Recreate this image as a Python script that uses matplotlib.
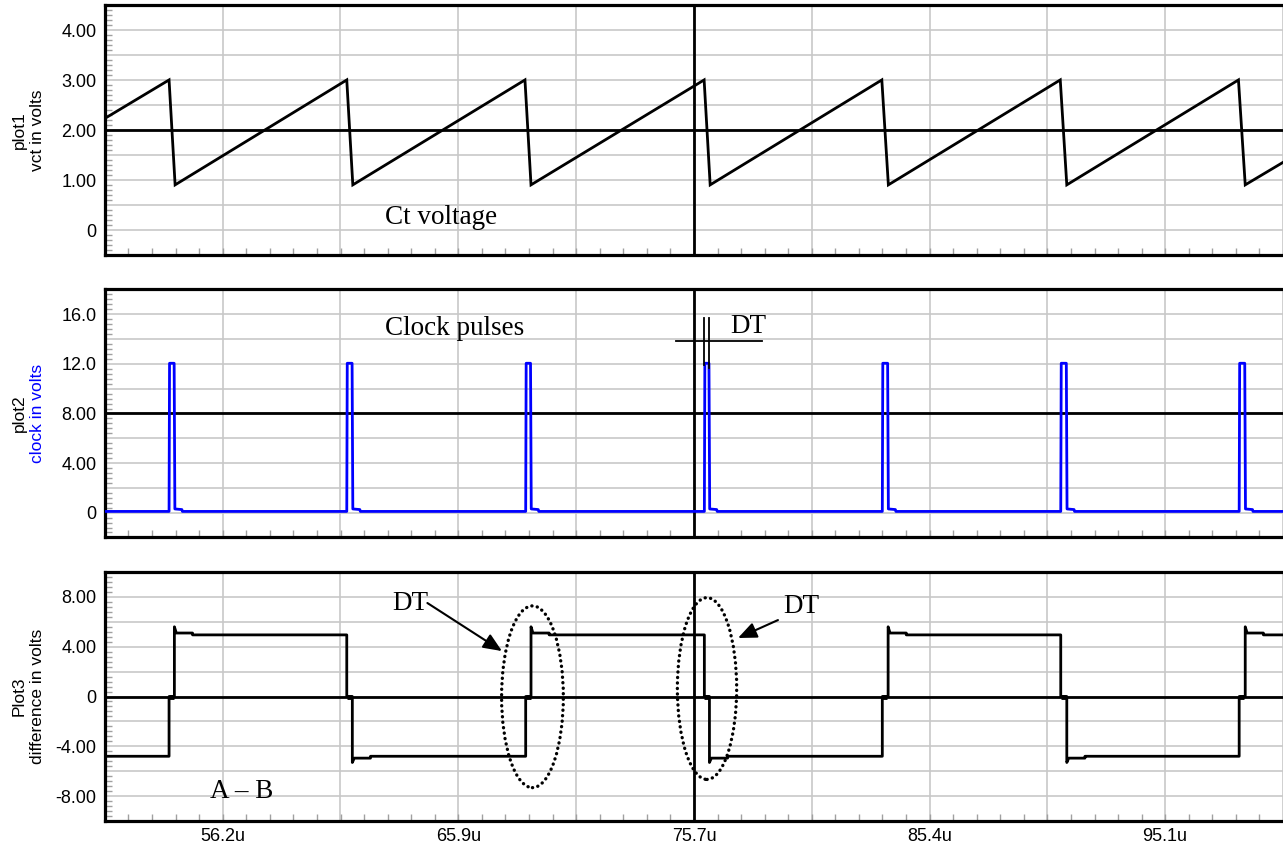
import matplotlib
matplotlib.use("Agg")
import matplotlib.pyplot as plt
import numpy as np
from matplotlib.patches import Ellipse
from matplotlib.ticker import FixedLocator, FixedFormatter

# ---------------- data ----------------
x_min, x_max = 51.34, 100.0
x_grid = [51.34, 56.21, 61.07, 65.94, 70.80, 75.67, 80.54, 85.40, 90.27, 95.13, 100.0]
x_labels = ['', '56.2u', '', '65.9u', '', '75.7u', '', '85.4u', '', '95.1u', '']
cursor_t = 75.67

# plot1: Ct voltage (sawtooth vertices)
ct_start = (51.34, 2.24)
ct_peak_t = [53.99, 61.33, 68.69, 76.09, 83.43, 90.80, 98.16]
ct_peak_v = [3.01, 3.01, 3.01, 3.01, 3.01, 3.01, 3.01]
ct_trough_t = [54.24, 61.58, 68.94, 76.34, 83.70, 91.07, 98.44]
ct_trough_v = [0.91, 0.91, 0.91, 0.91, 0.91, 0.91, 0.91]
ct_end = (100.0, 1.36)
p1_ylim = (-0.5, 4.5)
p1_grid = [-0.5, 0.0, 0.5, 1.0, 1.5, 2.0, 2.5, 3.0, 3.5, 4.0, 4.5]
p1_labels = ['', '0', '', '1.00', '', '2.00', '', '3.00', '', '4.00', '']
p1_cursor = 2.0

# plot2: clock pulses
clk_rise = [53.99, 61.33, 68.72, 76.10, 83.45, 90.82, 98.19]
clk_fall = [54.22, 61.57, 68.94, 76.31, 83.69, 91.07, 98.44]
clk_top = 12.05
clk_base = 0.1
clk_tail_v = 0.3
clk_tail_len = 0.3
p2_ylim = (-2.0, 18.0)
p2_grid = [-2, 0, 2, 4, 6, 8, 10, 12, 14, 16, 18]
p2_labels = ['', '0', '', '4.00', '', '8.00', '', '12.0', '', '16.0', '']
p2_cursor = 8.0

# plot3: difference A - B
diff_t0 = [53.99, 61.33, 68.72, 76.10, 83.45, 90.82, 98.19]
diff_t1 = [54.21, 61.56, 68.94, 76.31, 83.69, 91.07, 98.44]
diff_dir = [1, -1, 1, -1, 1, -1, 1]
diff_high, diff_low = 4.95, -4.8
diff_over_high, diff_over_low = 5.6, -5.3
diff_settle_high, diff_settle_low = 5.1, -4.95
p3_ylim = (-10.0, 10.0)
p3_grid = [-10, -8, -6, -4, -2, 0, 2, 4, 6, 8, 10]
p3_labels = ['', '-8.00', '', '-4.00', '', '0', '', '4.00', '', '8.00', '']
p3_cursor = 0.0

# ---------------- build polylines from the read values ----------------
ct_t = [ct_start[0]]
ct_v = [ct_start[1]]
for pt, pv, tt, tv in zip(ct_peak_t, ct_peak_v, ct_trough_t, ct_trough_v):
    ct_t += [pt, tt]
    ct_v += [pv, tv]
ct_t.append(ct_end[0]); ct_v.append(ct_end[1])

clk_t = [x_min]
clk_v = [clk_base]
for r, f in zip(clk_rise, clk_fall):
    clk_t += [r, r + 0.02, f - 0.02, f + 0.01, f + clk_tail_len, f + clk_tail_len + 0.02]
    clk_v += [clk_base, clk_top, clk_top, clk_tail_v, clk_tail_v - 0.05, clk_base]
clk_t.append(x_max); clk_v.append(clk_base)

d_t = [x_min]
d_v = [diff_low]
level = diff_low
hold_segments = []
for t0, t1, d in zip(diff_t0, diff_t1, diff_dir):
    over = diff_over_high if d > 0 else diff_over_low
    settle = diff_settle_high if d > 0 else diff_settle_low
    new = diff_high if d > 0 else diff_low
    d_t += [t0, t0, t1, t1, t1 + 0.08, t1 + 0.75, t1 + 0.75]
    d_v += [level, 0.0, 0.0, over, settle, settle, new]
    hold_segments.append((t0, t1))
    level = new
d_t.append(x_max); d_v.append(level)

# ---------------- figure ----------------
fig = plt.figure(figsize=(12.83, 8.44), dpi=100)
left = 104.9 / 1283
width = 1.0 - left
ax1 = fig.add_axes([left, 0.6975, width, 0.2960])
ax2 = fig.add_axes([left, 0.3632, width, 0.2938])
ax3 = fig.add_axes([left, 0.02725, width, 0.2950])

SANS = ['Liberation Sans', 'DejaVu Sans']
SERIF = ['Liberation Serif', 'DejaVu Serif']
grid_col = '#c8c8c8'

def style(ax, ylim, ygrid, ylabels, show_x):
    ax.set_xlim(x_min, x_max)
    ax.set_ylim(*ylim)
    ax.xaxis.set_major_locator(FixedLocator(x_grid))
    ax.xaxis.set_minor_locator(FixedLocator(np.linspace(x_min, x_max, 51)))
    ax.yaxis.set_major_locator(FixedLocator(ygrid))
    ax.yaxis.set_major_formatter(FixedFormatter(ylabels))
    ax.yaxis.set_minor_locator(FixedLocator(np.linspace(ylim[0], ylim[1], 51)))
    if show_x:
        ax.xaxis.set_major_formatter(FixedFormatter(x_labels))
    else:
        ax.xaxis.set_major_formatter(FixedFormatter([''] * len(x_grid)))
    ax.tick_params(which='major', length=0, pad=5, labelsize=13)
    ax.tick_params(which='minor', length=5, direction='in', color='#a0a0a0', width=1)
    ax.tick_params(axis='y', which='major', pad=6)
    for lab in ax.get_xticklabels() + ax.get_yticklabels():
        lab.set_family(SANS)
    ax.grid(True, which='major', color=grid_col, lw=1.2)
    ax.set_axisbelow(True)
    for s in ['left', 'top', 'bottom']:
        ax.spines[s].set_linewidth(2.3)
        ax.spines[s].set_color('black')
    ax.spines['right'].set_visible(False)
    ax.axvline(cursor_t, color='black', lw=2.0, zorder=3)

style(ax1, p1_ylim, p1_grid, p1_labels, False)
style(ax2, p2_ylim, p2_grid, p2_labels, False)
style(ax3, p3_ylim, p3_grid, p3_labels, True)

ax1.axhline(p1_cursor, color='black', lw=2.0, zorder=3)
ax2.axhline(p2_cursor, color='black', lw=2.0, zorder=3)
ax3.axhline(p3_cursor, color='black', lw=2.0, zorder=3)

ax1.plot(ct_t, ct_v, color='black', lw=2.0, zorder=4, solid_joinstyle='miter')
ax2.plot(clk_t, clk_v, color='#0000ff', lw=2.0, zorder=4)
ax3.plot(d_t, d_v, color='black', lw=2.0, zorder=4)
for t0, t1 in hold_segments:
    ax3.plot([t0, t0 + 0.2], [0, 0], color='black', lw=3.5, zorder=4, solid_capstyle='butt')

# y axis labels
def ylab(ax, line1, line2, c2='black'):
    pos = ax.get_position()
    yc = pos.y0 + pos.height / 2
    fig.text(19.5 / 1283, yc, line1, rotation=90, ha='center', va='center',
             fontsize=12.5, family=SANS, color='black')
    fig.text(38 / 1283, yc, line2, rotation=90, ha='center', va='center',
             fontsize=12.5, family=SANS, color=c2)

ylab(ax1, 'plot1', 'vct in volts')
ylab(ax2, 'plot2', 'clock in volts', '#0000ff')
ylab(ax3, 'Plot3', 'difference in volts')

# annotations
ax1.text(62.91, 0.13, 'Ct voltage', fontsize=19.5, family=SERIF, ha='left', va='baseline', zorder=5)
ax2.text(62.91, 14.3, 'Clock pulses', fontsize=19.5, family=SERIF, ha='left', va='baseline', zorder=5)
ax2.text(77.16, 14.5, 'DT', fontsize=19.5, family=SERIF, ha='left', va='baseline', zorder=5)
ax2.plot([clk_rise[3], clk_rise[3]], [15.7, 11.9], color='black', lw=1.3, zorder=5)
ax2.plot([clk_fall[3], clk_fall[3]], [15.7, 11.65], color='black', lw=1.3, zorder=5)
ax2.plot([74.93, 78.47], [13.85, 13.85], color='black', lw=1.3, zorder=5)

ax3.text(63.20, 6.95, 'DT', fontsize=19.5, family=SERIF, ha='left', va='baseline', zorder=5)
ax3.text(79.35, 6.68, 'DT', fontsize=19.5, family=SERIF, ha='left', va='baseline', zorder=5)
ax3.text(55.68, -8.17, 'A \u2013 B', fontsize=19.5, family=SERIF, ha='left', va='baseline', zorder=5)

arrow = dict(arrowstyle='-|>,head_length=0.75,head_width=0.32', color='black', lw=1.5,
             mutation_scale=15, shrinkA=0, shrinkB=0)
ax3.annotate('', xy=(67.74, 3.65), xytext=(64.66, 7.51), arrowprops=arrow, zorder=5)
ax3.annotate('', xy=(77.49, 4.70), xytext=(79.14, 6.14), arrowprops=arrow, zorder=5)

for (cx, cy, w, h) in [(69.00, -0.02, 2.55, 14.6), (76.21, 0.64, 2.45, 14.6)]:
    e = Ellipse((cx, cy), w, h, fill=False, edgecolor='black', lw=2.4,
                linestyle=(0, (0.05, 1.6)), zorder=6)
    e.set_capstyle('round')
    ax3.add_patch(e)

fig.savefig('out.png', dpi=100)
